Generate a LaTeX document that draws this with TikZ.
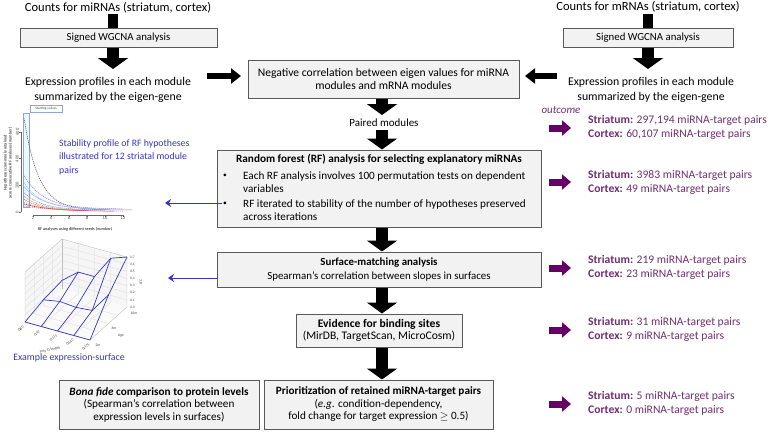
\documentclass[tikz,border=0pt]{standalone}
\usepackage{fontspec}
\setmainfont{Carlito}
\usetikzlibrary{arrows.meta,calc}
\definecolor{boxfill}{HTML}{F2F2F2}
\definecolor{boxline}{HTML}{595959}
\definecolor{bluet}{HTML}{3535C8}
\definecolor{purt}{HTML}{702F70}
\definecolor{pura}{HTML}{660066}
\begin{document}
\begin{tikzpicture}[x=1pt,y=-1pt,
  box/.style={draw=boxline, fill=boxfill, line width=1pt, align=center, inner sep=0pt},
  bigtxt/.style={font=\fontsize{11.8}{15.5}\selectfont, align=center, inner sep=0pt},
  btxt/.style={font=\fontsize{11.2}{13.5}\selectfont, inner sep=0pt},
  blockarrow/.style={line width=12pt, -{Triangle[width=30pt,length=11pt]}},
  shaft/.style={line width=10pt},
  harrow/.style={line width=6pt, -{Triangle[width=15pt,length=10pt]}},
  parrow/.style={pura, line width=7pt, -{Triangle[width=15pt,length=9pt]}},
  barrow/.style={bluet, line width=1pt, -{Stealth[length=6pt,width=8pt]}},
  outc/.style={purt, font=\fontsize{11.6}{14}\selectfont, align=left, anchor=west, inner sep=0pt},
  tiny/.style={font=\fontsize{4}{4.5}\selectfont, inner sep=0pt, text=black!70},
  grid3/.style={gray!30, line width=0.3pt},
  surf/.style={bluet, line width=0.7pt},
  crv/.style={line width=0.5pt, dash pattern=on 1.2pt off 0.8pt}
]
\useasboundingbox (0,0) rectangle (778,431);

% ---------- top left ----------
\node[bigtxt, font=\fontsize{12.5}{15}\selectfont] (cntL) at (118,8) {Counts for miRNAs (striatum, cortex)};
\node[box, minimum width=197pt, minimum height=19pt, font=\fontsize{10.8}{12}\selectfont] (boxL) at (118.5,37.5) {Signed WGCNA analysis};
\node[bigtxt] (exprL) at (108,90) {Expression profiles in each module\\summarized by the eigen-gene};
\coordinate (sL) at (113,14);
\coordinate (aL) at (113,69);
\draw[shaft] (sL) -- (sL |- boxL.north);
\draw[blockarrow] (sL |- boxL.south) -- (aL);

% ---------- top right ----------
\node[bigtxt, font=\fontsize{12.5}{15}\selectfont] (cntR) at (648,7) {Counts for mRNAs (striatum, cortex)};
\node[box, minimum width=170pt, minimum height=19pt, font=\fontsize{10.8}{12}\selectfont] (boxR) at (648,37.5) {Signed WGCNA analysis};
\node[bigtxt] (exprR) at (651,90) {Expression profiles in each module\\summarized by the eigen-gene};
\coordinate (sR) at (648,14);
\coordinate (aR) at (648,69);
\draw[shaft] (sR) -- (sR |- boxR.north);
\draw[blockarrow] (sR |- boxR.south) -- (aR);

% ---------- middle column ----------
\node[box, minimum width=271pt, minimum height=38pt, font=\fontsize{11.6}{13.5}\selectfont] (mid) at (383.5,79) {Negative correlation between eigen values for miRNA\\modules and mRNA modules};
\coordinate (hL) at (207,76);
\coordinate (hLe) at (241,76);
\coordinate (hR) at (557,76);
\coordinate (hRe) at (525,76);
\draw[harrow] (hL) -- (hLe);
\draw[harrow] (hR) -- (hRe);

\node[font=\fontsize{11}{13}\selectfont, inner sep=0pt] (paired) at (384,123) {Paired modules};
\coordinate (m1) at (382,115);
\coordinate (m2) at (382,130);
\draw[blockarrow] (mid.south -| m1) -- (m1);

\node[box, minimum width=324pt, minimum height=77pt] (rf) at (379,188.5) {};
\draw[blockarrow] (m2) -- (m2 |- rf.north);
\node[btxt, font=\fontsize{11.2}{13.5}\selectfont\bfseries] (rfT) at (379,159) {Random forest (RF) analysis for selecting explanatory miRNAs};
\node[btxt, font=\fontsize{7.5}{8}\selectfont] (bu1) at (225,176) {•};
\node[btxt, font=\fontsize{7.5}{8}\selectfont] (bu2) at (225,204) {•};
\node[btxt, anchor=west, align=left] (rf1) at (243,182) {Each RF analysis involves 100 permutation tests on dependent\\variables};
\node[btxt, anchor=west, align=left] (rf2) at (243,210) {RF iterated to stability of the number of hypotheses preserved\\across iterations};

\node[box, minimum width=324pt, minimum height=35pt, font=\fontsize{10.9}{13.5}\selectfont] (sm) at (379,269.5) {\textbf{Surface-matching analysis}\\Spearman’s correlation between slopes in surfaces};
\draw[blockarrow] (rf.south -| m1) -- (sm.north -| m1);

\node[box, minimum width=166pt, minimum height=33pt, font=\fontsize{11.6}{12.5}\selectfont] (ev) at (379,330.5) {\textbf{Evidence for binding sites}\\(MirDB, TargetScan, MicroCosm)};
\draw[blockarrow] (sm.south -| m1) -- (ev.north -| m1);

\node[box, minimum width=229pt, minimum height=49pt, font=\fontsize{11.2}{12.5}\selectfont] (pr) at (378.5,404.5) {\textbf{Prioritization of retained miRNA-target pairs}\\(\textit{e.g}. condition-dependency,\\fold change for target expression $\geq$ 0.5)};
\draw[blockarrow] (ev.south -| m1) -- (pr.north -| m1);

\node[box, minimum width=200pt, minimum height=49pt, font=\fontsize{11.2}{12.5}\selectfont] (bf) at (159,404.5) {\textbf{\textit{Bona fide} comparison to protein levels}\\(Spearman’s correlation between\\expression levels in surfaces)};

% ---------- outcomes ----------
\node[purt, font=\fontsize{11}{12}\selectfont\itshape, inner sep=0pt] (outc) at (561,110) {outcome};
\node[outc] (oc1) at (588,127) {\textbf{Striatum:} 297,194 miRNA-target pairs\\\textbf{Cortex:} 60,107 miRNA-target pairs};
\node[outc] (oc2) at (588,182) {\textbf{Striatum:} 3983 miRNA-target pairs\\\textbf{Cortex:} 49 miRNA-target pairs};
\node[outc] (oc3) at (588,267) {\textbf{Striatum:} 219 miRNA-target pairs\\\textbf{Cortex:} 23 miRNA-target pairs};
\node[outc] (oc4) at (588,329) {\textbf{Striatum:} 31 miRNA-target pairs\\\textbf{Cortex:} 9 miRNA-target pairs};
\node[outc] (oc5) at (588,403) {\textbf{Striatum:} 5 miRNA-target pairs\\\textbf{Cortex:} 0 miRNA-target pairs};
\foreach \i/\yy in {1/128,2/182,3/268,4/330,5/404}{
  \coordinate (pa\i) at (549,\yy);
  \coordinate (pb\i) at (571,\yy);
  \draw[parrow] (pa\i) -- (pb\i);
}

% ---------- blue annotations ----------
\node[bluet, font=\fontsize{9.8}{13.5}\selectfont, align=left, anchor=west, inner sep=0pt] (stab) at (59,157) {Stability profile of RF hypotheses\\illustrated for 12 striatal module\\pairs};
\node[bluet, font=\fontsize{9.9}{10}\selectfont, inner sep=0pt] (exs) at (69,358) {Example expression-surface};
\coordinate (b1s) at (222,203);
\coordinate (b1e) at (165,203);
\draw[barrow] (b1s) -- (b1e);
\coordinate (b2e) at (168,278);
\draw[barrow] (sm.west |- b2e) -- (b2e);

% ---------- stability plot ----------
\fill[cyan!8] (23,113) rectangle (29,207);
\draw[cyan!40!blue!45, line width=0.4pt] (23,113) rectangle (29,207);
\node[draw=cyan!40!blue!45, fill=white, line width=0.4pt, tiny, minimum width=32pt, minimum height=7pt, font=\fontsize{3.6}{4}\selectfont] (sv) at (46,108.5) {Starting values};
\begin{scope}[shift={(15pt,-212pt)}, x=9pt, y=0.1333pt]
  \draw[black!60, line width=0.4pt] (0.67,0) -- (0.67,600);
  \draw[black!60, line width=0.4pt] (2,-22) -- (12,-22);
  \foreach \t in {0,200,400,600} \draw[black!60, line width=0.4pt] (0.67,\t) -- (0.45,\t);
  \foreach \t in {2,4,...,12} {
    \draw[black!60, line width=0.4pt] (\t,-22) -- (\t,-36);
    \node[tiny, font=\fontsize{4.5}{5}\selectfont] at (\t,-48) {\t};
  }
  \foreach \t in {0,200,400,600} \node[tiny, rotate=90, font=\fontsize{4.5}{5}\selectfont] at (0.25,\t) {\t};
  \draw[crv, black!70] plot[domain=1:13, samples=30, smooth] (\x, {690*exp(-0.62*(\x-1))+15});
  \draw[crv, blue!55] plot[domain=1:12, samples=30, smooth] (\x, {250*exp(-0.45*(\x-1))+22});
  \draw[crv, cyan!60] plot[domain=1:10, samples=30, smooth] (\x, {200*exp(-0.5*(\x-1))+20});
  \draw[line width=0.5pt, blue!35] plot[domain=1:9, samples=30, smooth] (\x, {170*exp(-0.45*(\x-1))+20});
  \draw[crv, violet!60] plot[domain=1:10, samples=30, smooth] (\x, {130*exp(-0.5*(\x-1))+15});
  \draw[crv, green!60!black!70] plot[domain=1:9, samples=30, smooth] (\x, {105*exp(-0.5*(\x-1))+12});
  \draw[crv, red!75] plot[domain=1:8, samples=30, smooth] (\x, {85*exp(-0.5*(\x-1))+10});
  \draw[crv, orange!80] plot[domain=1:8, samples=30, smooth] (\x, {65*exp(-0.45*(\x-1))+8});
  \draw[crv, red!50!black] plot[domain=1:11, samples=30, smooth] (\x, {55*exp(-0.35*(\x-1))+5});
  \draw[crv, magenta!60] plot[domain=1:12, samples=30, smooth] (\x, {40*exp(-0.3*(\x-1))+5});
\end{scope}
\node[tiny, font=\fontsize{4.2}{4.5}\selectfont\bfseries] (xlab) at (75,229) {RF analyses using different seeds (number)};
\node[tiny, rotate=90, align=center, font=\fontsize{4.2}{5}\selectfont\bfseries] (ylab) at (8,163) {Hypotheses commonly retained\\across consecutive RF analyses (number)};

% ---------- surface plot ----------
\begin{scope}[shift={(25pt,-322pt)}, x={(16.25pt,-4.5pt)}, y={(18.5pt,16.5pt)}, z={(0pt,71.4pt)}]
  \fill[gray!7] (0,0,0) -- (0,2,0) -- (0,2,0.7) -- (0,0,0.7) -- cycle;
  \fill[gray!7] (0,2,0) -- (4,2,0) -- (4,2,0.7) -- (0,2,0.7) -- cycle;
  \fill[gray!4] (0,0,0) -- (4,0,0) -- (4,2,0) -- (0,2,0) -- cycle;
  \foreach \z in {0.1,0.2,0.3,0.4,0.5,0.6} \draw[grid3] (0,0,\z) -- (0,2,\z) -- (4,2,\z);
  \foreach \u in {1,2,3} \draw[grid3] (\u,0,0) -- (\u,2,0) -- (\u,2,0.7);
  \foreach \v in {0.5,1,1.5} \draw[grid3] (0,\v,0.7) -- (0,\v,0) -- (4,\v,0);
  \draw[gray!50, line width=0.4pt] (0,0,0.7) -- (0,0,0) -- (4,0,0) -- (4,2,0) -- (4,2,0.7);
  \draw[gray!50, line width=0.4pt] (0,0,0.7) -- (0,2,0.7) -- (4,2,0.7);
  \draw[gray!50, line width=0.4pt] (0,2,0) -- (0,2,0.7);
  % wireframe surface
  \draw[surf] (0,0,0.0) -- (1,0,0.0) -- (2,0,0.0) -- (3,0,0.0) -- (4,0,0.0);
  \draw[surf] (0,1,0.08) -- (1,1,0.12) -- (2,1,0.1) -- (3,1,0.12) -- (4,1,0.4);
  \draw[surf] (0,2,0.12) -- (1,2,0.3) -- (2,2,0.3) -- (3,2,0.62) -- (4,2,0.7);
  \draw[surf] (0,0,0.0) -- (0,1,0.08) -- (0,2,0.12);
  \draw[surf] (1,0,0.0) -- (1,1,0.12) -- (1,2,0.3);
  \draw[surf] (2,0,0.0) -- (2,1,0.1) -- (2,2,0.3);
  \draw[surf] (3,0,0.0) -- (3,1,0.12) -- (3,2,0.62);
  \draw[surf] (4,0,0.0) -- (4,1,0.4) -- (4,2,0.7);
  \foreach \z/\l in {0/0.0,0.1/0.1,0.2/0.2,0.3/0.3,0.4/0.4,0.5/0.5,0.6/0.6,0.7/0.7}
    \node[tiny, font=\fontsize{3.6}{4}\selectfont, anchor=west, xshift=3pt] at (4,2,\z) {\l};
\end{scope}
\node[tiny, rotate=90, font=\fontsize{3.8}{4}\selectfont] (lfc) at (141,282) {LFC};
\node[tiny, font=\fontsize{3.8}{4}\selectfont] (ag1) at (98,345) {2m};
\node[tiny, font=\fontsize{3.8}{4}\selectfont] (ag2) at (114,328) {6m};
\node[tiny, font=\fontsize{3.8}{4}\selectfont] (ag3) at (134,313) {10m};
\node[tiny, font=\fontsize{3.8}{4}\selectfont] (agl) at (121,336) {Age};
\node[tiny, rotate=40, font=\fontsize{3.8}{4}\selectfont] (q1) at (21,329) {Q80};
\node[tiny, rotate=40, font=\fontsize{3.8}{4}\selectfont] (q2) at (37,333.5) {Q92};
\node[tiny, rotate=40, font=\fontsize{3.8}{4}\selectfont] (q3) at (53.5,338) {Q111};
\node[tiny, rotate=40, font=\fontsize{3.8}{4}\selectfont] (q4) at (70,342.5) {Q140};
\node[tiny, rotate=40, font=\fontsize{3.8}{4}\selectfont] (q5) at (86,347) {Q175};
\node[tiny, rotate=12, font=\fontsize{3.8}{4}\selectfont] (ql) at (50,350) {Poly-Q length};
\end{tikzpicture}
\end{document}
